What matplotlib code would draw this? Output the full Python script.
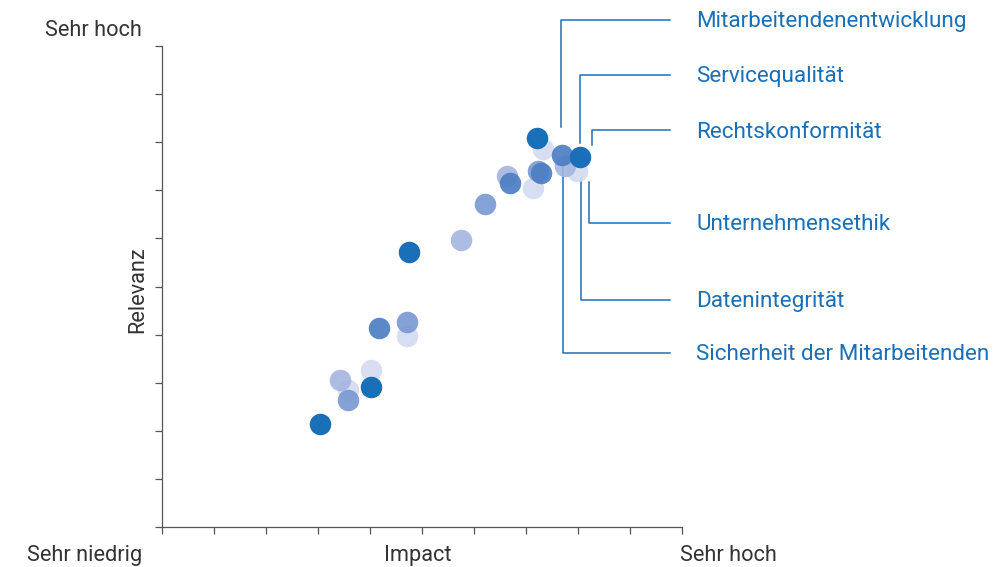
import matplotlib.pyplot as plt

# Punkte nach Farbgruppe (Impact, Relevanz)
vlight_x = [3.58, 4.02, 4.71, 7.13, 7.33, 7.98]
vlight_y = [2.85, 3.26, 3.97, 7.05, 7.86, 7.40]
light_x = [3.42, 5.75, 6.63, 7.75]
light_y = [3.06, 5.97, 7.30, 7.51]
mid_x = [3.58, 4.71, 6.21, 7.23]
mid_y = [2.64, 4.26, 6.72, 7.40]
middark_x = [4.17, 6.69, 7.29, 7.69]
middark_y = [4.14, 7.15, 7.36, 7.73]
dark_x = [3.04, 4.02, 4.75, 7.21, 8.04]
dark_y = [2.14, 2.91, 5.72, 8.09, 7.69]

# Beschriftungen mit Führungslinien
labels = ['Mitarbeitendenentwicklung', 'Servicequalität', 'Rechtskonformität',
          'Unternehmensethik', 'Datenintegrität', 'Sicherheit der Mitarbeitenden']
label_y = [10.54, 9.40, 8.25, 6.32, 4.72, 3.62]
lead_x = [7.67, 8.04, 8.27, 8.21, 8.05, 7.71]
lead_y0 = [8.32, 7.98, 7.94, 7.17, 7.26, 7.67]

blue = '#1a70b8'
grey = '#333333'
plt.rcParams['font.family'] = ['Roboto', 'DejaVu Sans']

fig = plt.figure(figsize=(10.02, 5.67), dpi=100)
ax = fig.add_axes([0.1617, 0.0705, 0.519, 0.8483])

s = 240
ax.scatter(vlight_x, vlight_y, s=s, color='#d4dbf0', alpha=0.9, lw=0, zorder=2)
ax.scatter(light_x, light_y, s=s, color='#a3b5e0', alpha=0.9, lw=0, zorder=3)
ax.scatter(mid_x, mid_y, s=s, color='#7898d2', alpha=0.9, lw=0, zorder=4)
ax.scatter(middark_x, middark_y, s=s, color='#4d7fc3', alpha=0.92, lw=0, zorder=5)
ax.scatter(dark_x, dark_y, s=s, color=blue, lw=0, zorder=6)

for lab, ly, lx, y0 in zip(labels, label_y, lead_x, lead_y0):
    ax.plot([lx, lx, 9.77], [y0, ly, ly], color=blue, lw=1.1, clip_on=False, zorder=1)
    ax.text(10.27, ly - 0.04, lab, color=blue, fontsize=16.2, va='center', ha='left', clip_on=False)

ax.set_xlim(0, 10)
ax.set_ylim(0, 10)
ax.set_xticks(range(11))
ax.set_yticks(range(11))
ax.set_xticklabels([])
ax.set_yticklabels([])
ax.tick_params(direction='out', length=5, width=0.9, colors='#555555')
for sp in ['top', 'right']:
    ax.spines[sp].set_visible(False)
for sp in ['left', 'bottom']:
    ax.spines[sp].set_color('#555555')
    ax.spines[sp].set_linewidth(0.9)

fs = 15.7
fig.text(0.0928, 0.947, 'Sehr hoch', color=grey, fontsize=fs, ha='center', va='center')
fig.text(0.0848, 0.021, 'Sehr niedrig', color=grey, fontsize=fs, ha='center', va='center')
fig.text(0.417, 0.021, 'Impact', color=grey, fontsize=fs, ha='center', va='center')
fig.text(0.7265, 0.021, 'Sehr hoch', color=grey, fontsize=fs, ha='center', va='center')
fig.text(0.1377, 0.4885, 'Relevanz', color=grey, fontsize=fs, ha='center', va='center', rotation=90)

fig.savefig('out.png', dpi=100)
